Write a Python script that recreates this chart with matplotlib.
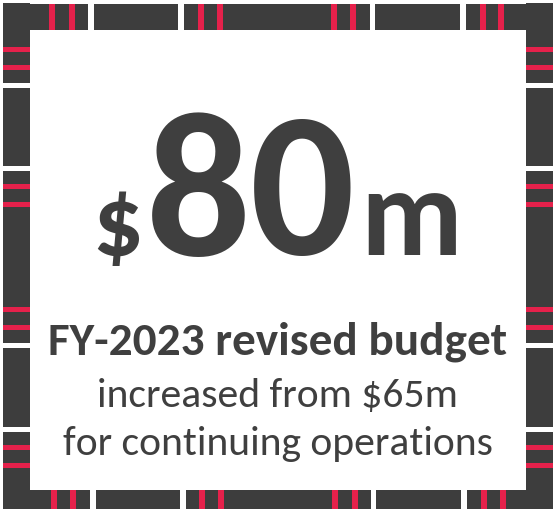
import matplotlib.pyplot as plt
from matplotlib import font_manager

# ================================
# Data
# ================================
budget_new = 80       # $m, revised
budget_old = 65       # $m, before revision
fiscal_year = 2023
line_title = f"FY-{fiscal_year} revised budget"
line_sub1 = f"increased from ${budget_old}m"
line_sub2 = "for continuing operations"

# ================================
# Border layout (pixel units)
# ================================
top_segs = [(3, 88), (94, 178), (184, 370), (375, 460), (466, 552)]
top_reds = [49, 69, 198, 217, 331, 350, 480, 498]
bottom_segs = [(3, 90), (96, 180), (186, 371), (376, 461), (467, 552)]
bottom_reds = [51, 70, 199, 218, 332, 352, 481, 500]
side_segs = [(3, 83), (88, 166), (171, 343), (348, 427), (432, 509)]
side_reds = [47, 65, 184, 202, 307, 325, 445, 463]

dark = '#3d3d3d'
red = '#e5214b'
text_col = '#3f3f3f'

names = {f.name for f in font_manager.fontManager.ttflist}
font = 'Carlito' if 'Carlito' in names else 'Lato'

W, H = 553, 509
fig = plt.figure(figsize=(W / 100, H / 100), dpi=100)
ax = fig.add_axes([0, 0, 1, 1])
ax.set_xlim(0, W)
ax.set_ylim(H, 0)
ax.axis('off')

# top and bottom bars
ax.broken_barh([(a, b - a) for a, b in top_segs], (4, 26), color=dark, lw=0)
ax.broken_barh([(x, 6) for x in top_reds], (4, 26), color=red, lw=0)
ax.broken_barh([(a, b - a) for a, b in bottom_segs], (490, 19), color=dark, lw=0)
ax.broken_barh([(x, 6) for x in bottom_reds], (490, 19), color=red, lw=0)

# left and right columns
for x0 in (3, 526):
    ax.bar([x0] * len(side_segs), [b - a for a, b in side_segs],
           bottom=[a for a, b in side_segs], width=27, align='edge', color=dark, lw=0)
    ax.bar([x0] * len(side_reds), [5] * len(side_reds),
           bottom=side_reds, width=27, align='edge', color=red, lw=0)

# big number
base = 255
ax.text(117.5, base, '$', fontsize=72, fontweight='bold', family=font,
        color=text_col, ha='center', va='baseline')
ax.text(251, base, str(budget_new), fontsize=149, fontweight='bold', family=font,
        color=text_col, ha='center', va='baseline')
ax.text(411, base, 'm', fontsize=90, fontweight='bold', family=font,
        color=text_col, ha='center', va='baseline')

# texts
ax.text(277.5, 355, line_title, fontsize=34, fontweight='bold', family=font,
        color=text_col, ha='center', va='baseline')
ax.text(277.5, 407, line_sub1, fontsize=30, family=font,
        color=text_col, ha='center', va='baseline')
ax.text(277.5, 455, line_sub2, fontsize=30, family=font,
        color=text_col, ha='center', va='baseline')

plt.savefig('out.png', dpi=100)
